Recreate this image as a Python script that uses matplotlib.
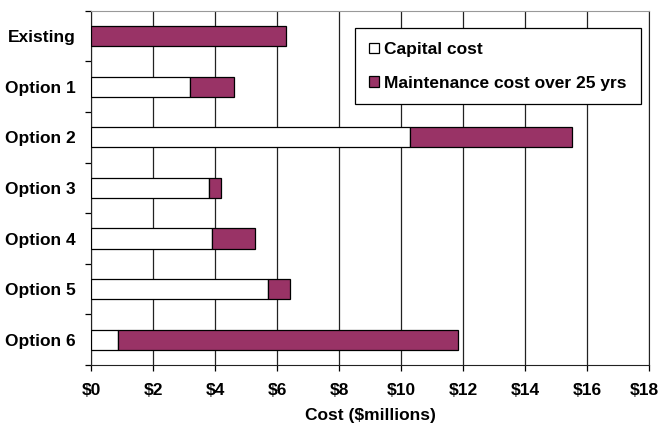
import numpy as np
import matplotlib.pyplot as plt
from matplotlib.ticker import FuncFormatter, MultipleLocator

plt.rcParams['font.family'] = ['Liberation Sans', 'DejaVu Sans']
plt.rcParams['font.weight'] = 'bold'

categories = ["Existing", "Option 1", "Option 2", "Option 3", "Option 4", "Option 5", "Option 6"]
capital = [0.0, 3.2, 10.3, 3.8, 3.9, 5.7, 0.85]
maintenance = [6.3, 1.4, 5.2, 0.4, 1.4, 0.7, 11.0]
x_max = 18

fs = 12.5
fig = plt.figure(figsize=(6.61, 4.30), dpi=100)
ax = fig.add_axes([0.138, 0.151, 0.844, 0.824])

y = np.arange(len(categories))
ax.barh(y, capital, height=0.4, color="white", edgecolor="black", linewidth=0.9,
        label="Capital cost", zorder=3)
ax.barh(y, maintenance, left=capital, height=0.4, color="#993366", edgecolor="black",
        linewidth=0.9, label="Maintenance cost over 25 yrs", zorder=3)

ax.set_xlim(0, x_max)
ax.set_ylim(len(categories) - 0.5, -0.5)
ax.xaxis.set_major_locator(MultipleLocator(2))
# last label drawn separately so it stays inside the figure edge
ax.xaxis.set_major_formatter(FuncFormatter(lambda v, p: "" if v >= x_max else "$%d" % v))
ax.annotate("$%d" % x_max, xy=(1, 0), xycoords="axes fraction", xytext=(-3.5, -13),
            textcoords="offset points", ha="center", va="top", fontsize=fs, fontweight="bold")
ax.grid(axis="x", color="#222222", linewidth=0.9, zorder=0)

# category labels centred, tick marks at the boundaries
ax.set_yticks(np.arange(-0.5, len(categories), 1.0))
ax.set_yticklabels([])
ax.set_yticks(y, minor=True)
ax.set_yticklabels(categories, minor=True, fontsize=fs, fontweight="bold")
ax.tick_params(axis="y", which="minor", length=0, pad=11)
ax.tick_params(axis="y", which="major", length=4, width=0.9, direction="out")
ax.tick_params(axis="x", length=4, width=0.9, labelsize=fs, pad=9)

ax.set_xlabel("Cost ($millions)", fontsize=fs, fontweight="bold", labelpad=7)

ax.spines["top"].set_color("#999999")
ax.spines["right"].set_color("#222222")
ax.spines["left"].set_color("#222222")
ax.spines["bottom"].set_color("#222222")

leg = ax.legend(loc="upper right", bbox_to_anchor=(0.985, 0.95),
                prop={"weight": "bold", "size": fs}, fancybox=False, framealpha=1,
                edgecolor="black", handlelength=0.55, handleheight=0.55,
                handletextpad=0.33, labelspacing=1.05, borderpad=0.8, borderaxespad=0)
leg.get_frame().set_linewidth(0.9)

fig.savefig("out.png", dpi=100)
